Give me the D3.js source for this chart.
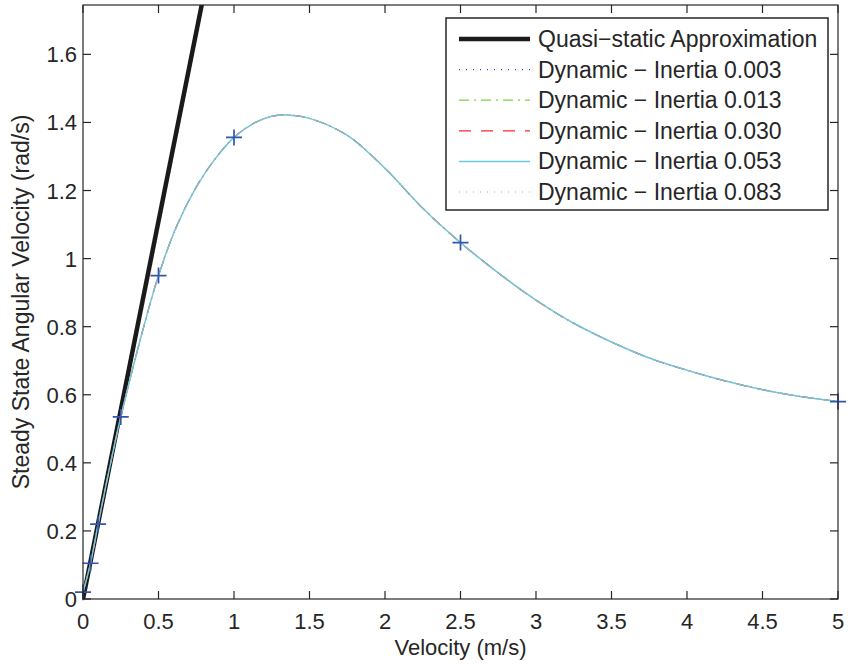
<!DOCTYPE html>
<html>
<head>
<meta charset="utf-8">
<script src="https://cdn.jsdelivr.net/npm/d3@7"></script>
<style>
  body { margin: 0; background: #fff; }
  text { font-family: "Liberation Sans", Arial, sans-serif; fill: #262626; }
</style>
</head>
<body>
<script>
(function() {

    // velocity (m/s) and steady state angular velocity (rad/s)
    var velocity = [0, 0.05, 0.1, 0.15, 0.2, 0.25, 0.375, 0.5, 0.625, 0.75, 0.875, 1, 1.125, 1.25, 1.35,
                    1.5, 1.75, 2, 2.25, 2.5, 2.75, 3, 3.25, 3.5, 3.75, 4, 4.25, 4.5, 4.75, 5];
    var omegaDynamic = [0.02, 0.105, 0.22, 0.33, 0.435, 0.535, 0.755, 0.95, 1.10, 1.21, 1.293, 1.356, 1.396, 1.418, 1.422,
                        1.412, 1.362, 1.265, 1.148, 1.047, 0.958, 0.878, 0.81, 0.755, 0.708, 0.672, 0.641, 0.615, 0.595, 0.58];

    // quasi-static approximation (straight line)
    var quasiVelocity = [0, 1];
    var quasiOmega = [0, 2.22];

    // "+" markers
    var markerVelocity = [0, 0.05, 0.1, 0.25, 0.5, 1, 2.5, 5];
    var markerOmega = [0.02, 0.105, 0.22, 0.535, 0.95, 1.356, 1.047, 0.58];

    var inertias = ["0.003", "0.013", "0.030", "0.053", "0.083"];

    var xTicks = [0, 0.5, 1, 1.5, 2, 2.5, 3, 3.5, 4, 4.5, 5];
    var yTicks = [0, 0.2, 0.4, 0.6, 0.8, 1, 1.2, 1.4, 1.6];

    var width = 848, height = 664;
    var margin = {left: 83, right: 10, top: 5, bottom: 64};

    var styles = [
        {color: "#3a3ac8", dash: "1,6", w: 1.2},
        {color: "#7fd040", dash: "10,5,2,5", w: 1.2},
        {color: "#ff2a2a", dash: "12,10", w: 1.2},
        {color: "#6ccbd8", dash: null, w: 1.5},
        {color: "#e080c8", dash: "1,6", w: 1.2}
    ];

    var svg = d3.select("body").append("svg")
        .attr("width", width)
        .attr("height", height);

    var x = d3.scaleLinear().domain([0, 5]).range([margin.left, width - margin.right]);
    var y = d3.scaleLinear().domain([0, 1.745]).range([height - margin.bottom - 1, margin.top]);

    svg.append("defs").append("clipPath").attr("id", "plotclip")
        .append("rect")
        .attr("x", x(0)).attr("y", y.range()[1])
        .attr("width", x(5) - x(0)).attr("height", y.range()[0] - y.range()[1]);

    var plot = svg.append("g").attr("clip-path", "url(#plotclip)");

    var line = d3.line()
        .x(function(d) { return x(d[0]); })
        .y(function(d) { return y(d[1]); });

    var quasi = quasiVelocity.map(function(v, i) { return [v, quasiOmega[i]]; });
    plot.append("path")
        .datum(quasi)
        .attr("d", line)
        .attr("fill", "none")
        .attr("stroke", "#1a1a1a")
        .attr("stroke-width", 4.5);

    var dyn = velocity.map(function(v, i) { return [v, omegaDynamic[i]]; });
    var smooth = d3.line()
        .x(function(d) { return x(d[0]); })
        .y(function(d) { return y(d[1]); })
        .curve(d3.curveCatmullRom.alpha(0.5));

    // plotted in legend order, cyan solid ends up covering most of the others
    styles.forEach(function(s) {
        plot.append("path")
            .datum(dyn)
            .attr("d", smooth)
            .attr("fill", "none")
            .attr("stroke", s.color)
            .attr("stroke-width", s.w)
            .attr("stroke-dasharray", s.dash);
    });

    // + markers
    var mk = svg.append("g");
    markerVelocity.forEach(function(v, i) {
        var cx = x(v), cy = y(markerOmega[i]);
        mk.append("path")
            .attr("d", "M" + (cx - 8) + "," + cy + "H" + (cx + 8) + "M" + cx + "," + (cy - 8) + "V" + (cy + 8))
            .attr("stroke", "#3355aa")
            .attr("stroke-width", 1.7)
            .attr("fill", "none");
    });

    // axes box with inward ticks
    var x0 = x(0), x1 = x(5), y0 = y.range()[0], y1 = y.range()[1];
    var axisG = svg.append("g").attr("stroke", "#262626").attr("stroke-width", 1.2);
    axisG.append("rect")
        .attr("x", x0).attr("y", y1)
        .attr("width", x1 - x0).attr("height", y0 - y1)
        .attr("fill", "none");

    var tl = 8;
    xTicks.forEach(function(t) {
        axisG.append("line").attr("x1", x(t)).attr("x2", x(t)).attr("y1", y0).attr("y2", y0 - tl);
        axisG.append("line").attr("x1", x(t)).attr("x2", x(t)).attr("y1", y1).attr("y2", y1 + tl);
    });
    yTicks.forEach(function(t) {
        axisG.append("line").attr("x1", x0).attr("x2", x0 + tl).attr("y1", y(t)).attr("y2", y(t));
        axisG.append("line").attr("x1", x1).attr("x2", x1 - tl).attr("y1", y(t)).attr("y2", y(t));
    });

    var fs = 22;
    svg.append("g").selectAll("text").data(xTicks).enter().append("text")
        .attr("x", function(d) { return x(d); })
        .attr("y", y0 + 30)
        .attr("text-anchor", "middle")
        .attr("font-size", fs)
        .text(function(d) { return d3.format("")(d); });

    svg.append("g").selectAll("text").data(yTicks).enter().append("text")
        .attr("x", x0 - 6)
        .attr("y", function(d) { return y(d) + 8; })
        .attr("text-anchor", "end")
        .attr("font-size", fs)
        .text(function(d) { return d3.format("")(d); });

    svg.append("text")
        .attr("x", (x0 + x1) / 2)
        .attr("y", y0 + 56)
        .attr("text-anchor", "middle")
        .attr("font-size", 22)
        .text("Velocity (m/s)");

    svg.append("text")
        .attr("transform", "translate(29," + ((y0 + y1) / 2) + ") rotate(-90)")
        .attr("text-anchor", "middle")
        .attr("font-size", 23)
        .text("Steady State Angular Velocity (rad/s)");

    // legend
    var lg = svg.append("g");
    lg.append("rect")
        .attr("x", 446).attr("y", 18)
        .attr("width", 382).attr("height", 192)
        .attr("fill", "#fff")
        .attr("stroke", "#262626")
        .attr("stroke-width", 1.5);

    var labels = ["Quasi\u2212static Approximation"].concat(inertias.map(function(d) {
        return "Dynamic \u2212 Inertia " + d;
    }));
    labels.forEach(function(lab, i) {
        var ly = 39 + i * 30.6;
        var ln = lg.append("line")
            .attr("x1", 459).attr("x2", 530)
            .attr("y1", ly).attr("y2", ly);
        if (i === 0) {
            ln.attr("stroke", "#1a1a1a").attr("stroke-width", 4.5);
        } else {
            var s = styles[i - 1];
            ln.attr("stroke", s.color).attr("stroke-width", s.w).attr("stroke-dasharray", s.dash);
        }
        lg.append("text")
            .attr("x", 538)
            .attr("y", ly + 8)
            .attr("font-size", 23)
            .text(lab);
    });

})();
</script>
</body>
</html>
